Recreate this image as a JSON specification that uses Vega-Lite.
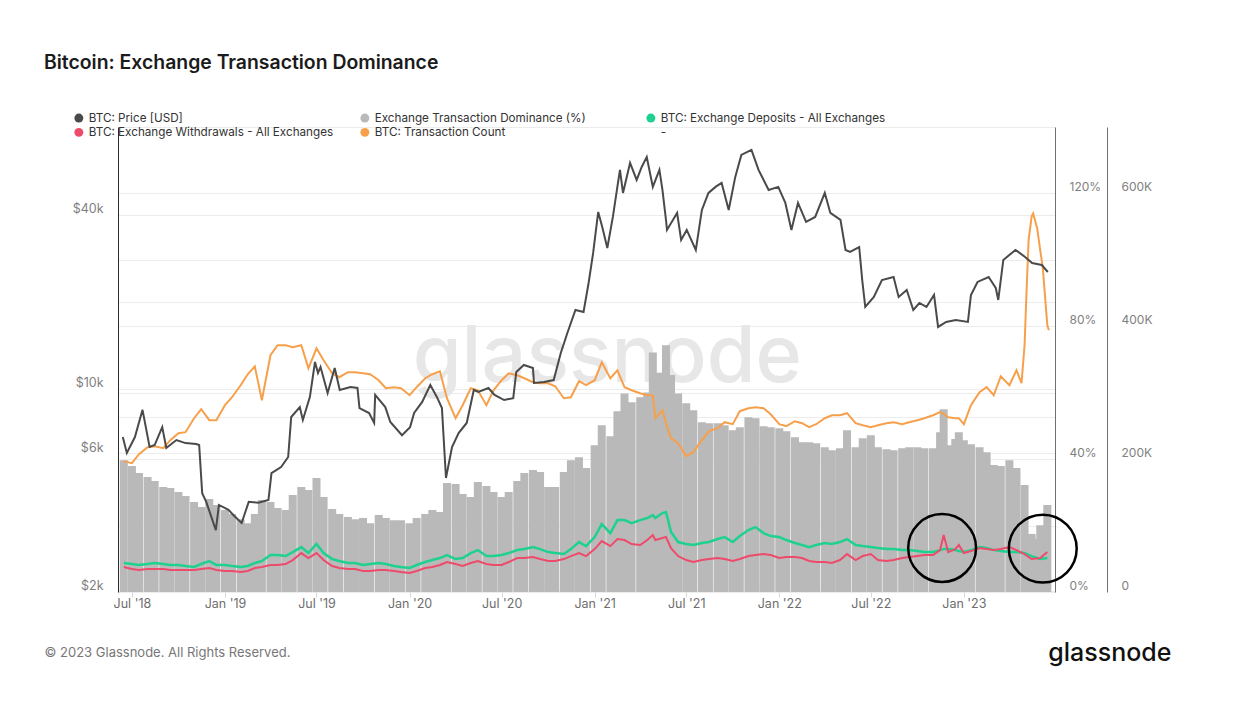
{
"$schema": "https://vega.github.io/schema/vega-lite/v6.json",
"width": 937,
"height": 465,
"autosize": {"type": "none"},
"padding": {"left": 118, "top": 127, "right": 191, "bottom": 110},
"background": "#ffffff",
"title": {"text": "Bitcoin: Exchange Transaction Dominance", "anchor": "start", "frame": "group", "dx": -74, "offset": 39, "fontSize": 19.4, "fontWeight": 600, "color": "#1b1b1b", "font": "Inter"},
"datasets": {
"main": [
{"d":"2018-06-15","dom":39.7,"dep":43600,"wd":37600,"cnt":197000},
{"d":"2018-07-01","dom":37.9,"dep":42100,"wd":34600,"cnt":194000},
{"d":"2018-07-15","dom":35.8,"dep":40600,"wd":33100,"cnt":207500},
{"d":"2018-08-01","dom":34.6,"dep":42100,"wd":34600,"cnt":218000},
{"d":"2018-08-15","dom":33.4,"dep":43600,"wd":34600,"cnt":219500},
{"d":"2018-09-01","dom":31.6,"dep":42100,"wd":34600,"cnt":216500},
{"d":"2018-09-15","dom":31.3,"dep":40600,"wd":33100,"cnt":228600},
{"d":"2018-10-01","dom":30.1,"dep":40600,"wd":33100,"cnt":239100},
{"d":"2018-10-15","dom":28.9,"dep":39100,"wd":33100,"cnt":240600},
{"d":"2018-11-01","dom":27.1,"dep":37600,"wd":33100,"cnt":261600},
{"d":"2018-11-15","dom":25.6,"dep":42100,"wd":34600,"cnt":275200},
{"d":"2018-12-01","dom":28.0,"dep":46600,"wd":36100,"cnt":258600},
{"d":"2018-12-15","dom":26.2,"dep":40600,"wd":33100,"cnt":258600},
{"d":"2019-01-01","dom":24.7,"dep":40600,"wd":31600,"cnt":281200},
{"d":"2019-01-15","dom":23.5,"dep":39100,"wd":31600,"cnt":293200},
{"d":"2019-02-01","dom":21.9,"dep":37600,"wd":30000,"cnt":311300},
{"d":"2019-02-15","dom":20.7,"dep":39100,"wd":31600,"cnt":327800},
{"d":"2019-03-01","dom":23.5,"dep":43600,"wd":36100,"cnt":339800},
{"d":"2019-03-15","dom":27.7,"dep":46600,"wd":37600,"cnt":288700},
{"d":"2019-04-01","dom":27.1,"dep":55600,"wd":40600,"cnt":356400},
{"d":"2019-04-15","dom":25.3,"dep":55600,"wd":40600,"cnt":371400},
{"d":"2019-05-01","dom":24.7,"dep":54100,"wd":42100,"cnt":371400},
{"d":"2019-05-15","dom":29.2,"dep":60100,"wd":48100,"cnt":368400},
{"d":"2019-06-01","dom":31.6,"dep":67600,"wd":58600,"cnt":371400},
{"d":"2019-06-15","dom":30.7,"dep":58600,"wd":51100,"cnt":336800},
{"d":"2019-07-01","dom":34.3,"dep":72200,"wd":58600,"cnt":366900},
{"d":"2019-07-15","dom":28.6,"dep":58600,"wd":48100,"cnt":348900},
{"d":"2019-08-01","dom":25.0,"dep":49600,"wd":39100,"cnt":329300},
{"d":"2019-08-15","dom":23.5,"dep":46600,"wd":36100,"cnt":323300},
{"d":"2019-09-01","dom":22.6,"dep":43600,"wd":34600,"cnt":330800},
{"d":"2019-09-15","dom":21.9,"dep":43600,"wd":34600,"cnt":330800},
{"d":"2019-10-01","dom":22.3,"dep":40600,"wd":31600,"cnt":329300},
{"d":"2019-10-15","dom":20.7,"dep":42100,"wd":31600,"cnt":327800},
{"d":"2019-11-01","dom":23.2,"dep":43600,"wd":33100,"cnt":318800},
{"d":"2019-11-15","dom":22.3,"dep":42100,"wd":33100,"cnt":306700},
{"d":"2019-12-01","dom":21.6,"dep":39100,"wd":31600,"cnt":308300},
{"d":"2019-12-15","dom":21.6,"dep":37600,"wd":30000,"cnt":306700},
{"d":"2020-01-01","dom":20.7,"dep":36100,"wd":28500,"cnt":296200},
{"d":"2020-01-15","dom":22.3,"dep":40600,"wd":31600,"cnt":308300},
{"d":"2020-02-01","dom":23.5,"dep":45100,"wd":36100,"cnt":321800},
{"d":"2020-02-15","dom":24.7,"dep":48100,"wd":37600,"cnt":327800},
{"d":"2020-03-01","dom":24.1,"dep":51100,"wd":40600,"cnt":332300},
{"d":"2020-03-15","dom":32.8,"dep":55600,"wd":45100,"cnt":291700},
{"d":"2020-04-01","dom":32.5,"dep":49600,"wd":42100,"cnt":261600},
{"d":"2020-04-15","dom":29.5,"dep":51100,"wd":39100,"cnt":281200},
{"d":"2020-05-01","dom":28.6,"dep":58600,"wd":43600,"cnt":306700},
{"d":"2020-05-15","dom":33.1,"dep":63100,"wd":46600,"cnt":303700},
{"d":"2020-06-01","dom":31.9,"dep":54100,"wd":42100,"cnt":281200},
{"d":"2020-06-15","dom":30.1,"dep":54100,"wd":40600,"cnt":303700},
{"d":"2020-07-01","dom":28.6,"dep":55600,"wd":40600,"cnt":318800},
{"d":"2020-07-15","dom":30.1,"dep":58600,"wd":45100,"cnt":329300},
{"d":"2020-08-01","dom":33.4,"dep":63100,"wd":51100,"cnt":326300},
{"d":"2020-08-15","dom":35.8,"dep":64600,"wd":51100,"cnt":321800},
{"d":"2020-09-01","dom":36.7,"dep":67600,"wd":52600,"cnt":315800},
{"d":"2020-09-15","dom":36.1,"dep":64600,"wd":49600,"cnt":314300},
{"d":"2020-10-01","dom":31.6,"dep":60100,"wd":46600,"cnt":314300},
{"d":"2020-10-15","dom":31.6,"dep":58600,"wd":46600,"cnt":309800},
{"d":"2020-11-01","dom":36.1,"dep":57100,"wd":49600,"cnt":291700},
{"d":"2020-11-15","dom":39.7,"dep":64600,"wd":54100,"cnt":293200},
{"d":"2020-12-01","dom":40.6,"dep":75200,"wd":58600,"cnt":317300},
{"d":"2020-12-15","dom":37.3,"dep":69100,"wd":54100,"cnt":311300},
{"d":"2021-01-01","dom":44.2,"dep":82700,"wd":64600,"cnt":318800},
{"d":"2021-01-15","dom":50.2,"dep":102200,"wd":76700,"cnt":345800},
{"d":"2021-02-01","dom":46.9,"dep":88700,"wd":69100,"cnt":321800},
{"d":"2021-02-15","dom":54.4,"dep":108200,"wd":79700,"cnt":333800},
{"d":"2021-03-01","dom":59.8,"dep":108200,"wd":78200,"cnt":308300},
{"d":"2021-03-15","dom":57.1,"dep":103700,"wd":72200,"cnt":303700},
{"d":"2021-04-01","dom":58.6,"dep":108200,"wd":70700,"cnt":299200},
{"d":"2021-04-15","dom":60.1,"dep":111300,"wd":78200,"cnt":296200},
{"d":"2021-04-26","dom":72.1,"dep":115800,"wd":85700,"cnt":296200},
{"d":"2021-05-01","dom":66.0,"dep":111300,"wd":78200,"cnt":261600},
{"d":"2021-05-15","dom":66.0,"dep":118800,"wd":81200,"cnt":273700},
{"d":"2021-05-22","dom":74.3,"dep":120300,"wd":82700,"cnt":254100},
{"d":"2021-06-01","dom":65.3,"dep":90200,"wd":66100,"cnt":231600},
{"d":"2021-06-15","dom":59.8,"dep":75200,"wd":54100,"cnt":224000},
{"d":"2021-07-01","dom":56.8,"dep":72200,"wd":48100,"cnt":204500},
{"d":"2021-07-15","dom":54.7,"dep":70700,"wd":45100,"cnt":210500},
{"d":"2021-08-01","dom":51.1,"dep":73700,"wd":48100,"cnt":228600},
{"d":"2021-08-15","dom":50.8,"dep":75200,"wd":49600,"cnt":242100},
{"d":"2021-09-01","dom":50.8,"dep":79700,"wd":51100,"cnt":246600},
{"d":"2021-09-15","dom":50.2,"dep":82700,"wd":49600,"cnt":255600},
{"d":"2021-10-01","dom":48.7,"dep":75200,"wd":46600,"cnt":252600},
{"d":"2021-10-15","dom":49.6,"dep":84200,"wd":49600,"cnt":272200},
{"d":"2021-11-01","dom":52.6,"dep":93200,"wd":54100,"cnt":276700},
{"d":"2021-11-15","dom":52.3,"dep":97700,"wd":55600,"cnt":278200},
{"d":"2021-12-01","dom":49.9,"dep":88700,"wd":57100,"cnt":276700},
{"d":"2021-12-15","dom":49.6,"dep":84200,"wd":55600,"cnt":267600},
{"d":"2022-01-01","dom":49.3,"dep":82700,"wd":51100,"cnt":252600},
{"d":"2022-01-15","dom":48.4,"dep":78200,"wd":52600,"cnt":249600},
{"d":"2022-02-01","dom":46.6,"dep":73700,"wd":52600,"cnt":257100},
{"d":"2022-02-15","dom":45.1,"dep":70700,"wd":51100,"cnt":254100},
{"d":"2022-03-01","dom":45.1,"dep":67600,"wd":46600,"cnt":248100},
{"d":"2022-03-15","dom":44.8,"dep":70700,"wd":45100,"cnt":252600},
{"d":"2022-04-01","dom":43.6,"dep":73700,"wd":45100,"cnt":261600},
{"d":"2022-04-15","dom":42.7,"dep":72200,"wd":43600,"cnt":266100},
{"d":"2022-05-01","dom":43.3,"dep":75200,"wd":48100,"cnt":266100},
{"d":"2022-05-15","dom":48.7,"dep":79700,"wd":57100,"cnt":269200},
{"d":"2022-06-01","dom":43.6,"dep":70700,"wd":48100,"cnt":254100},
{"d":"2022-06-15","dom":46.3,"dep":69100,"wd":54100,"cnt":251100},
{"d":"2022-07-01","dom":47.2,"dep":67600,"wd":57100,"cnt":248100},
{"d":"2022-07-15","dom":43.6,"dep":66100,"wd":48100,"cnt":251100},
{"d":"2022-08-01","dom":43.0,"dep":64600,"wd":46600,"cnt":254100},
{"d":"2022-08-15","dom":42.7,"dep":64600,"wd":48100,"cnt":255600},
{"d":"2022-09-01","dom":43.3,"dep":63100,"wd":51100,"cnt":252600},
{"d":"2022-09-15","dom":43.6,"dep":63100,"wd":52600,"cnt":255600},
{"d":"2022-10-01","dom":43.6,"dep":61600,"wd":54100,"cnt":258600},
{"d":"2022-10-15","dom":43.3,"dep":60100,"wd":55600,"cnt":261600},
{"d":"2022-11-01","dom":43.3,"dep":60100,"wd":55600,"cnt":266100},
{"d":"2022-11-15","dom":48.1,"dep":63100,"wd":63100,"cnt":270700},
{"d":"2022-11-22","dom":55.0,"dep":64600,"wd":85700,"cnt":268000},
{"d":"2022-12-01","dom":44.2,"dep":64600,"wd":60100,"cnt":263100},
{"d":"2022-12-15","dom":46.1,"dep":63100,"wd":64600,"cnt":261600},
{"d":"2022-12-22","dom":48.1,"dep":61600,"wd":70700,"cnt":261600},
{"d":"2023-01-01","dom":45.7,"dep":60100,"wd":58600,"cnt":252600},
{"d":"2023-01-15","dom":44.5,"dep":63100,"wd":61600,"cnt":281200},
{"d":"2023-02-01","dom":43.6,"dep":67600,"wd":66100,"cnt":300700},
{"d":"2023-02-15","dom":42.1,"dep":66100,"wd":64600,"cnt":308300},
{"d":"2023-03-01","dom":38.2,"dep":63100,"wd":63100,"cnt":296200},
{"d":"2023-03-15","dom":37.9,"dep":61600,"wd":64600,"cnt":324800},
{"d":"2023-04-01","dom":39.7,"dep":60100,"wd":67600,"cnt":311300},
{"d":"2023-04-15","dom":37.3,"dep":60100,"wd":63100,"cnt":333800},
{"d":"2023-04-25","cnt":314300},
{"d":"2023-05-01","dom":32.2,"dep":58600,"wd":57100,"cnt":371400},
{"d":"2023-05-05","cnt":454100},
{"d":"2023-05-09","cnt":529300},
{"d":"2023-05-15","dom":17.5,"dep":54100,"wd":49600,"cnt":565400},
{"d":"2023-05-18","cnt":569900},
{"d":"2023-05-22","dom":16.0},
{"d":"2023-05-26","cnt":547400},
{"d":"2023-06-01","dom":20.1,"dep":49600,"wd":51100,"cnt":514300},
{"d":"2023-06-06","cnt":488700},
{"d":"2023-06-15","dom":26.2,"dep":51100,"wd":60100,"cnt":401500},
{"d":"2023-06-18","cnt":394000}
],
"price": [
{"d":"2018-06-13","p":6820},{"d":"2018-06-21","p":6010},{"d":"2018-07-07","p":6820},{"d":"2018-07-22","p":8470},{"d":"2018-08-05","p":6300},{"d":"2018-08-15","p":6400},{"d":"2018-08-30","p":7380},{"d":"2018-09-07","p":6250},{"d":"2018-09-27","p":6660},{"d":"2018-10-15","p":6500},{"d":"2018-11-05","p":6450},{"d":"2018-11-11","p":6400},{"d":"2018-11-17","p":4360},{"d":"2018-11-25","p":4070},{"d":"2018-12-14","p":3250},{"d":"2018-12-20","p":3970},{"d":"2019-01-08","p":3820},{"d":"2019-01-18","p":3660},{"d":"2019-02-03","p":3440},{"d":"2019-02-17","p":4070},{"d":"2019-03-08","p":4040},{"d":"2019-03-28","p":4130},{"d":"2019-04-03","p":5120},{"d":"2019-04-22","p":5370},{"d":"2019-05-06","p":5820},{"d":"2019-05-12","p":8000},{"d":"2019-05-29","p":8660},{"d":"2019-06-04","p":7810},{"d":"2019-06-18","p":9390},{"d":"2019-06-28","p":12400},{"d":"2019-07-04","p":11360},{"d":"2019-07-09","p":11920},{"d":"2019-07-23","p":9680},{"d":"2019-08-06","p":11820},{"d":"2019-08-16","p":9920},{"d":"2019-09-06","p":10160},{"d":"2019-09-20","p":10080},{"d":"2019-09-24","p":8590},{"d":"2019-10-13","p":8260},{"d":"2019-10-23","p":7630},{"d":"2019-10-25","p":9540},{"d":"2019-11-14","p":8660},{"d":"2019-11-24","p":7690},{"d":"2019-12-17","p":6920},{"d":"2020-01-02","p":7380},{"d":"2020-01-10","p":8260},{"d":"2020-01-26","p":9020},{"d":"2020-02-11","p":10320},{"d":"2020-02-24","p":9390},{"d":"2020-03-05","p":8590},{"d":"2020-03-13","p":4920},{"d":"2020-03-25","p":6300},{"d":"2020-04-07","p":7040},{"d":"2020-04-23","p":7630},{"d":"2020-05-07","p":9920},{"d":"2020-05-16","p":9770},{"d":"2020-06-05","p":10080},{"d":"2020-06-17","p":9540},{"d":"2020-07-06","p":9160},{"d":"2020-07-24","p":9300},{"d":"2020-07-30","p":11460},{"d":"2020-08-14","p":12110},{"d":"2020-09-01","p":11820},{"d":"2020-09-03","p":10490},{"d":"2020-09-23","p":10570},{"d":"2020-10-12","p":10740},{"d":"2020-10-26","p":13320},{"d":"2020-11-08","p":15620},{"d":"2020-11-24","p":18770},{"d":"2020-12-10","p":18470},{"d":"2020-12-20","p":23270},{"d":"2020-12-29","p":29560},{"d":"2021-01-08","p":40960},{"d":"2021-01-16","p":36360},{"d":"2021-01-26","p":30750},{"d":"2021-02-06","p":39370},{"d":"2021-02-14","p":48820},{"d":"2021-02-20","p":57250},{"d":"2021-02-26","p":47670},{"d":"2021-03-12","p":60530},{"d":"2021-03-25","p":52870},{"d":"2021-04-04","p":58630},{"d":"2021-04-14","p":63500},{"d":"2021-04-26","p":50010},{"d":"2021-05-09","p":57250},{"d":"2021-05-15","p":48820},{"d":"2021-05-22","p":38450},{"d":"2021-05-24","p":35500},{"d":"2021-06-13","p":40650},{"d":"2021-06-21","p":32780},{"d":"2021-07-02","p":35500},{"d":"2021-07-20","p":30270},{"d":"2021-08-01","p":41620},{"d":"2021-08-14","p":47670},{"d":"2021-08-28","p":50010},{"d":"2021-09-09","p":51620},{"d":"2021-09-23","p":41620},{"d":"2021-10-06","p":54160},{"d":"2021-10-18","p":64530},{"d":"2021-11-07","p":67150},{"d":"2021-11-21","p":57250},{"d":"2021-12-11","p":48820},{"d":"2021-12-30","p":50010},{"d":"2022-01-13","p":44020},{"d":"2022-01-25","p":35500},{"d":"2022-02-07","p":44020},{"d":"2022-02-23","p":37830},{"d":"2022-03-13","p":39370},{"d":"2022-04-01","p":47670},{"d":"2022-04-12","p":40650},{"d":"2022-05-02","p":38450},{"d":"2022-05-12","p":30270},{"d":"2022-05-21","p":29790},{"d":"2022-06-08","p":30990},{"d":"2022-06-14","p":23830},{"d":"2022-06-20","p":19220},{"d":"2022-07-07","p":20820},{"d":"2022-07-23","p":23830},{"d":"2022-08-15","p":24410},{"d":"2022-08-25","p":20820},{"d":"2022-09-10","p":22010},{"d":"2022-09-23","p":18770},{"d":"2022-10-05","p":19840},{"d":"2022-10-19","p":19220},{"d":"2022-11-03","p":21150},{"d":"2022-11-11","p":16390},{"d":"2022-11-27","p":17060},{"d":"2022-12-16","p":17330},{"d":"2023-01-09","p":17060},{"d":"2023-01-15","p":21150},{"d":"2023-01-28","p":23460},{"d":"2023-02-19","p":24410},{"d":"2023-03-05","p":22360},{"d":"2023-03-10","p":20320},{"d":"2023-03-20","p":27960},{"d":"2023-04-13","p":30270},{"d":"2023-05-02","p":28630},{"d":"2023-05-16","p":27280},{"d":"2023-06-04","p":26850},{"d":"2023-06-16","p":25400}
]
},
"encoding": {
"x": {"field": "d", "type": "temporal",
 "scale": {"type": "utc", "domain": [{"year": 2018, "month": 6, "date": 13, "hours": 10, "utc": true}, {"year": 2023, "month": 6, "date": 20, "hours": 7, "utc": true}], "nice": false},
 "axis": {"format": "%b '%y", "tickCount": {"interval": "month", "step": 6}, "grid": false, "domain": false, "ticks": true, "tickSize": 5, "tickColor": "#d8d8d8", "labelPadding": 0, "labelFontSize": 12.5, "labelColor": "#6e6e6e", "labelFont": "Inter", "labelFlush": false, "labelOverlap": false,
  "title": "© 2023 Glassnode. All Rights Reserved.", "titleX": -74, "titleY": 60, "titleAlign": "left", "titleAnchor": "start", "titleBaseline": "middle", "titleFontSize": 13, "titleFontWeight": "normal", "titleColor": "#777777", "titleFont": "Inter"}}
},
"layer": [
{
 "layer": [
 {
  "data": {"values": [{"d": "2021-01-26", "p": 70.4, "t": "glassnode"}]},
  "mark": {"type": "text", "font": "Inter", "fontSize": 79, "fontWeight": 500, "color": "#e7e7e7", "align": "center", "baseline": "middle"},
  "encoding": {
   "y": {"field": "p", "type": "quantitative", "scale": {"domain": [0, 140], "nice": false},
    "axis": {"orient": "right", "values": [0, 20, 40, 60, 80, 100, 120, 140], "labelExpr": "(datum.value % 40 == 0 && datum.value < 140) ? datum.value + '%' : ''", "grid": true, "gridColor": "#ececec", "ticks": false, "domain": true, "domainColor": "#707070", "labelPadding": 14, "labelOffset": -7, "labelFontSize": 12, "labelColor": "#808080", "labelFont": "Inter", "title": null}},
   "text": {"field": "t"}
  }
 },
 {
  "data": {"name": "main"},
  "transform": [{"filter": {"field": "dom", "valid": true}}],
  "mark": {"type": "bar", "size": 8, "clip": true},
  "encoding": {
   "y": {"field": "dom", "type": "quantitative", "scale": {"domain": [0, 140], "nice": false},
    "axis": {"orient": "right", "values": [0, 20, 40, 60, 80, 100, 120, 140], "labelExpr": "(datum.value % 40 == 0 && datum.value < 140) ? datum.value + '%' : ''", "grid": true, "gridColor": "#ececec", "ticks": false, "domain": true, "domainColor": "#707070", "labelPadding": 14, "labelOffset": -7, "labelFontSize": 12, "labelColor": "#808080", "labelFont": "Inter", "title": null}},
   "color": {"datum": "Exchange Transaction Dominance (%)",
    "scale": {"domain": ["BTC: Price [USD]", "Exchange Transaction Dominance (%)", "BTC: Exchange Deposits - All Exchanges", "BTC: Exchange Withdrawals - All Exchanges", "BTC: Transaction Count", "-"], "range": ["#4a4a4a", "#b9b9b9", "#1fd18f", "#ee4b6b", "#f7a04c", "transparent"]},
    "legend": {"orient": "none", "direction": "horizontal", "legendX": -45, "legendY": -15, "columns": 3, "gridAlign": "all", "columnPadding": 25, "rowPadding": 1.5, "symbolType": "circle", "symbolSize": 80, "symbolOpacity": 1, "symbolStrokeWidth": 0, "labelFontSize": 11.7, "labelColor": "#333333", "labelFont": "Inter", "labelOffset": 4, "labelLimit": 400, "title": null, "padding": 0}}
  }
 }
 ]
},
{
 "layer": [
 {
  "data": {"name": "main"},
  "transform": [{"filter": {"field": "dep", "valid": true}}],
  "mark": {"type": "line", "strokeWidth": 2.5},
  "encoding": {
   "y": {"field": "dep", "type": "quantitative", "scale": {"domain": [0, 700000], "nice": false},
    "axis": {"orient": "right", "offset": 52, "values": [0, 200000, 400000, 600000], "labelExpr": "datum.value == 0 ? '0' : format(datum.value / 1000, 'd') + 'K'", "grid": false, "ticks": false, "domainColor": "#707070", "labelPadding": 14, "labelOffset": -7, "labelFontSize": 12, "labelColor": "#808080", "labelFont": "Inter", "title": "glassnode", "titleAngle": 0, "titleX": 64, "titleY": 525, "titleAlign": "right", "titleBaseline": "middle", "titleFontSize": 25, "titleFontWeight": 500, "titleColor": "#111111", "titleFont": "Inter"}},
   "color": {"datum": "BTC: Exchange Deposits - All Exchanges", "scale": {"domain": ["BTC: Price [USD]", "Exchange Transaction Dominance (%)", "BTC: Exchange Deposits - All Exchanges", "BTC: Exchange Withdrawals - All Exchanges", "BTC: Transaction Count", "-"], "range": ["#4a4a4a", "#b9b9b9", "#1fd18f", "#ee4b6b", "#f7a04c", "transparent"]}, "legend": null}
  }
 },
 {
  "data": {"name": "main"},
  "transform": [{"filter": {"field": "wd", "valid": true}}],
  "mark": {"type": "line", "strokeWidth": 2},
  "encoding": {
   "y": {"field": "wd", "type": "quantitative", "scale": {"domain": [0, 700000], "nice": false},
    "axis": {"orient": "right", "offset": 52, "values": [0, 200000, 400000, 600000], "labelExpr": "datum.value == 0 ? '0' : format(datum.value / 1000, 'd') + 'K'", "grid": false, "ticks": false, "domainColor": "#707070", "labelPadding": 14, "labelOffset": -7, "labelFontSize": 12, "labelColor": "#808080", "labelFont": "Inter", "title": "glassnode", "titleAngle": 0, "titleX": 64, "titleY": 525, "titleAlign": "right", "titleBaseline": "middle", "titleFontSize": 25, "titleFontWeight": 500, "titleColor": "#111111", "titleFont": "Inter"}},
   "color": {"datum": "BTC: Exchange Withdrawals - All Exchanges", "scale": {"domain": ["BTC: Price [USD]", "Exchange Transaction Dominance (%)", "BTC: Exchange Deposits - All Exchanges", "BTC: Exchange Withdrawals - All Exchanges", "BTC: Transaction Count", "-"], "range": ["#4a4a4a", "#b9b9b9", "#1fd18f", "#ee4b6b", "#f7a04c", "transparent"]}, "legend": null}
  }
 },
 {
  "data": {"name": "main"},
  "transform": [{"filter": {"field": "cnt", "valid": true}}],
  "mark": {"type": "line", "strokeWidth": 2},
  "encoding": {
   "y": {"field": "cnt", "type": "quantitative", "scale": {"domain": [0, 700000], "nice": false},
    "axis": {"orient": "right", "offset": 52, "values": [0, 200000, 400000, 600000], "labelExpr": "datum.value == 0 ? '0' : format(datum.value / 1000, 'd') + 'K'", "grid": false, "ticks": false, "domainColor": "#707070", "labelPadding": 14, "labelOffset": -7, "labelFontSize": 12, "labelColor": "#808080", "labelFont": "Inter", "title": "glassnode", "titleAngle": 0, "titleX": 64, "titleY": 525, "titleAlign": "right", "titleBaseline": "middle", "titleFontSize": 25, "titleFontWeight": 500, "titleColor": "#111111", "titleFont": "Inter"}},
   "color": {"datum": "BTC: Transaction Count", "scale": {"domain": ["BTC: Price [USD]", "Exchange Transaction Dominance (%)", "BTC: Exchange Deposits - All Exchanges", "BTC: Exchange Withdrawals - All Exchanges", "BTC: Transaction Count", "-"], "range": ["#4a4a4a", "#b9b9b9", "#1fd18f", "#ee4b6b", "#f7a04c", "transparent"]}, "legend": null}
  }
 },
 {
  "data": {"values": [{"d": "2022-11-19", "v": 66200}, {"d": "2023-06-06", "v": 65400}]},
  "mark": {"type": "point", "shape": "circle", "filled": false, "size": 4600, "stroke": "#000000", "strokeWidth": 2.5, "opacity": 1, "clip": false},
  "encoding": {
   "y": {"field": "v", "type": "quantitative", "scale": {"domain": [0, 700000], "nice": false},
    "axis": {"orient": "right", "offset": 52, "values": [0, 200000, 400000, 600000], "labelExpr": "datum.value == 0 ? '0' : format(datum.value / 1000, 'd') + 'K'", "grid": false, "ticks": false, "domainColor": "#707070", "labelPadding": 14, "labelOffset": -7, "labelFontSize": 12, "labelColor": "#808080", "labelFont": "Inter", "title": "glassnode", "titleAngle": 0, "titleX": 64, "titleY": 525, "titleAlign": "right", "titleBaseline": "middle", "titleFontSize": 25, "titleFontWeight": 500, "titleColor": "#111111", "titleFont": "Inter"}}
  }
 }
 ]
},
{
 "layer": [
 {
  "data": {"name": "price"},
  "mark": {"type": "line", "strokeWidth": 2},
  "encoding": {
   "y": {"field": "p", "type": "quantitative", "scale": {"type": "log", "domain": [1985, 80600], "nice": false},
    "axis": {"orient": "left", "values": [2000, 6000, 8000, 10000, 20000, 40000], "labelExpr": "(datum.value == 8000 || datum.value == 20000) ? '' : '$' + format(datum.value / 1000, 'd') + 'k'", "grid": true, "gridColor": "#ececec", "ticks": false, "domainColor": "#2a2a2a", "labelPadding": 15, "labelOffset": -6, "labelFontSize": 12.5, "labelColor": "#808080", "labelFont": "Inter", "title": null}},
   "color": {"datum": "BTC: Price [USD]", "scale": {"domain": ["BTC: Price [USD]", "Exchange Transaction Dominance (%)", "BTC: Exchange Deposits - All Exchanges", "BTC: Exchange Withdrawals - All Exchanges", "BTC: Transaction Count", "-"], "range": ["#4a4a4a", "#b9b9b9", "#1fd18f", "#ee4b6b", "#f7a04c", "transparent"]}, "legend": null}
  }
 }
 ]
}
],
"resolve": {"scale": {"y": "independent"}},
"config": {
 "view": {"stroke": null},
 "font": "Inter",
 "axis": {"labelFont": "Inter", "titleFont": "Inter"},
 "legend": {"labelFont": "Inter"}
}
}
